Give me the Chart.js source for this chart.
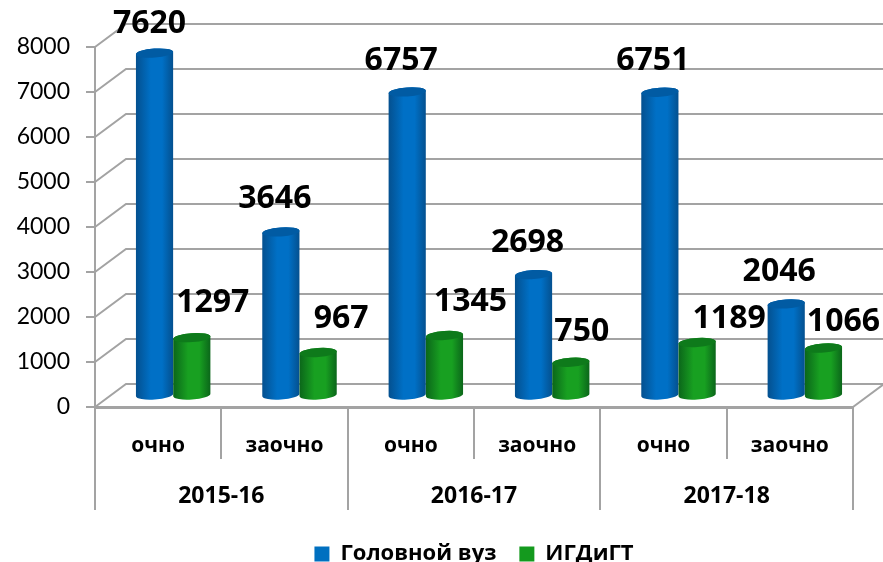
<!DOCTYPE html>
<html lang="ru">
<head>
    <meta charset="UTF-8">
    <title>Контингент</title>
    <script src="https://cdn.jsdelivr.net/npm/chart.js"></script>
    <style>
        html, body { margin: 0; padding: 0; background: #fff; }
        canvas { display: block; }
    </style>
</head>
<body>
    <canvas id="chart" width="883" height="562"></canvas>

    <script>
        // Data
        const years = ['2015-16', '2016-17', '2017-18'];
        const forms = ['очно', 'заочно', 'очно', 'заочно', 'очно', 'заочно'];
        const headValues = [7620, 3646, 6757, 2698, 6751, 2046];
        const igdValues = [1297, 967, 1345, 750, 1189, 1066];

        // hand placement of the value labels, relative to the top of each cylinder
        const headLabelShift = [[-5, -29], [-6, -33], [-6, -31], [-6, -32], [-7, -31], [-7, -32]];
        const igdLabelShift = [[21, -35], [23, -34], [26, -34], [11, -30], [32, -24], [20, -26]];

        const FONT = '"Open Sans", sans-serif';
        const GRID = '#a3a3a3';
        const DEPTH_X = 31, DEPTH_Y = 23;   // back wall offset
        const BAR_X = 15, BAR_Y = 11;       // cylinders stand mid way on the floor
        const TILT = -0.07, RY = 4.5;

        function cylinder(ctx, bar, dark, mid, top) {
            const cx = bar.x + BAR_X, rx = bar.width / 2;
            const by = bar.base - BAR_Y, ty = bar.y - BAR_Y;
            const g = ctx.createLinearGradient(cx - rx, 0, cx + rx, 0);
            g.addColorStop(0, dark);
            g.addColorStop(0.4, mid);
            g.addColorStop(0.7, mid);
            g.addColorStop(1, dark);
            ctx.beginPath();
            ctx.ellipse(cx, by, rx, RY, TILT, 0, Math.PI, false);
            ctx.ellipse(cx, ty, rx, RY, TILT, Math.PI, Math.PI * 2, false);
            ctx.closePath();
            ctx.fillStyle = g;
            ctx.fill();
            ctx.beginPath();
            ctx.ellipse(cx, ty, rx, RY, TILT, 0, Math.PI * 2);
            ctx.fillStyle = top;
            ctx.fill();
        }

        const fake3d = {
            id: 'fake3d',
            // floor and back wall, the front lines come from the axes
            beforeDatasetsDraw(chart) {
                const { ctx, scales: { y }, chartArea: a } = chart;
                ctx.save();
                ctx.strokeStyle = GRID;
                ctx.lineWidth = 2;
                y.ticks.forEach(t => {
                    const py = y.getPixelForValue(t.value);
                    ctx.beginPath();
                    ctx.moveTo(a.left, py);
                    ctx.lineTo(a.left + DEPTH_X, py - DEPTH_Y);
                    ctx.lineTo(a.right + DEPTH_X, py - DEPTH_Y);
                    ctx.stroke();
                });
                ctx.beginPath();
                ctx.moveTo(a.right, a.bottom);
                ctx.lineTo(a.right + DEPTH_X, a.bottom - DEPTH_Y);
                ctx.stroke();
                ctx.restore();
            },
            // the flat bars are replaced by cylinders below
            beforeDatasetDraw() {
                return false;
            },
            afterDatasetsDraw(chart) {
                const { ctx } = chart;
                const head = chart.getDatasetMeta(0).data;
                const igd = chart.getDatasetMeta(1).data;
                ctx.save();
                head.forEach((bar, i) => {
                    cylinder(ctx, bar, '#04508f', '#0070c6', '#015ba3');
                    cylinder(ctx, igd[i], '#0b661a', '#18a021', '#0e7a1b');
                });
                ctx.fillStyle = '#000';
                ctx.font = 'bold 32px ' + FONT;
                ctx.textAlign = 'center';
                ctx.textBaseline = 'middle';
                head.forEach((bar, i) => {
                    ctx.fillText(headValues[i], bar.x + BAR_X + headLabelShift[i][0], bar.y - BAR_Y + headLabelShift[i][1]);
                });
                igd.forEach((bar, i) => {
                    ctx.fillText(igdValues[i], bar.x + BAR_X + igdLabelShift[i][0], bar.y - BAR_Y + igdLabelShift[i][1]);
                });
                ctx.restore();
            }
        };

        new Chart(document.getElementById('chart'), {
            type: 'bar',
            data: {
                labels: forms,
                datasets: [
                    { label: 'Головной вуз', data: headValues, backgroundColor: '#0070c0' },
                    { label: 'ИГДиГТ', data: igdValues, backgroundColor: '#149a1e' }
                ]
            },
            plugins: [fake3d],
            options: {
                responsive: false,
                animation: false,
                categoryPercentage: 0.59,
                barPercentage: 1,
                layout: { padding: { top: 47, right: 30, left: 0, bottom: -13 } },
                plugins: {
                    tooltip: { enabled: false },
                    legend: {
                        position: 'bottom',
                        fullSize: false,
                        labels: {
                            color: '#000',
                            boxWidth: 15,
                            boxHeight: 15,
                            padding: 23,
                            font: { family: FONT, size: 22, weight: 'bold' }
                        }
                    }
                },
                scales: {
                    y: {
                        min: 0,
                        max: 8000,
                        afterFit: s => { s.width = 95; },
                        ticks: {
                            stepSize: 1000,
                            callback: v => String(v),
                            color: '#000',
                            padding: 16,
                            font: { family: 'Lato, sans-serif', size: 23 }
                        },
                        grid: { drawOnChartArea: false, tickLength: 9, color: GRID, lineWidth: 2 },
                        border: { color: GRID, width: 2 }
                    },
                    x: {
                        afterFit: s => { s.height = 52; },
                        ticks: {
                            color: '#000',
                            autoSkip: false,
                            maxRotation: 0,
                            padding: -26,
                            font: { family: FONT, size: 21, weight: 'bold' }
                        },
                        grid: { offset: true, drawOnChartArea: false, tickLength: 52, color: GRID, lineWidth: 2 },
                        border: { color: GRID, width: 3 }
                    },
                    x2: {
                        type: 'category',
                        position: 'bottom',
                        labels: years,
                        offset: true,
                        weight: 1,
                        afterFit: s => { s.height = 61; },
                        ticks: {
                            color: '#000',
                            autoSkip: false,
                            maxRotation: 0,
                            padding: -27,
                            font: { family: FONT, size: 23, weight: 'bold' }
                        },
                        grid: { offset: true, drawOnChartArea: false, tickLength: 51, color: GRID, lineWidth: 2 },
                        border: { display: false }
                    }
                }
            }
        });
    </script>
</body>
</html>
